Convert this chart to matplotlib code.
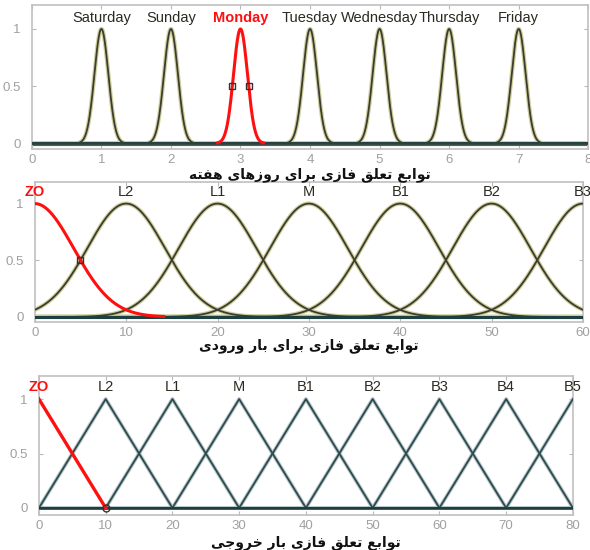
import numpy as np
import matplotlib
matplotlib.use('Agg')
import matplotlib.pyplot as plt

# Data
days = ['Saturday', 'Sunday', 'Monday', 'Tuesday', 'Wednesday', 'Thursday', 'Friday']
day_centers = [1, 2, 3, 4, 5, 6, 7]
day_sigma = 0.1
day_red = 'Monday'

in_labels = ['ZO', 'L2', 'L1', 'M', 'B1', 'B2', 'B3']
in_centers = [0, 10, 20, 30, 40, 50, 60]
in_sigma = 4.25

out_labels = ['ZO', 'L2', 'L1', 'M', 'B1', 'B2', 'B3', 'B4', 'B5']
out_centers = [0, 10, 20, 30, 40, 50, 60, 70, 80]
out_width = 10

xlabels = ['توابع تعلق فازی برای روزهای هفته',
           'توابع تعلق فازی برای بار ورودی',
           'توابع تعلق فازی بار خروجی']

# Persian shaping by hand (matplotlib draws no joined Arabic script)
# letter: (isolated, final, initial, medial); None = does not join forward
FORMS = {
    'ا': ('\uFE8D', '\uFE8E', None, None),
    'ب': ('\uFE8F', '\uFE90', '\uFE91', '\uFE92'),
    'ت': ('\uFE95', '\uFE96', '\uFE97', '\uFE98'),
    'ج': ('\uFE9D', '\uFE9E', '\uFE9F', '\uFEA0'),
    'خ': ('\uFEA5', '\uFEA6', '\uFEA7', '\uFEA8'),
    'د': ('\uFEA9', '\uFEAA', None, None),
    'ر': ('\uFEAD', '\uFEAE', None, None),
    'ز': ('\uFEAF', '\uFEB0', None, None),
    'ع': ('\uFEC9', '\uFECA', '\uFECB', '\uFECC'),
    'ف': ('\uFED1', '\uFED2', '\uFED3', '\uFED4'),
    'ق': ('\uFED5', '\uFED6', '\uFED7', '\uFED8'),
    'ل': ('\uFEDD', '\uFEDE', '\uFEDF', '\uFEE0'),
    'ه': ('\uFEE9', '\uFEEA', '\uFEEB', '\uFEEC'),
    'و': ('\uFEED', '\uFEEE', None, None),
    'ی': ('\uFBFC', '\uFBFD', '\uFBFE', '\uFBFF'),
}


def shape(text):
    out = []
    for i, ch in enumerate(text):
        if ch not in FORMS:
            out.append(ch)
            continue
        prev = text[i - 1] if i > 0 else ''
        nxt = text[i + 1] if i + 1 < len(text) else ''
        join_prev = prev in FORMS and FORMS[prev][2] is not None
        join_next = FORMS[ch][2] is not None and nxt in FORMS
        iso, fin, ini, med = FORMS[ch]
        if join_prev and join_next:
            out.append(med)
        elif join_prev:
            out.append(fin)
        elif join_next:
            out.append(ini)
        else:
            out.append(iso)
    return ''.join(out)[::-1]


def gauss(x, c, s):
    return np.exp(-(x - c) ** 2 / (2 * s ** 2))


def tri(x, c, w):
    return np.clip(1 - np.abs(x - c) / w, 0, 1)


def style_axes(ax, xticks):
    ax.set_xticks(xticks)
    ax.set_yticks([0, 0.5, 1])
    ax.set_yticklabels(['0', '0.5', '1'])
    ax.tick_params(direction='in', top=True, right=True, length=3,
                   color='#b8b8b8', labelcolor='#a0a0a0', labelsize=9.5)
    ax.tick_params(axis='y', pad=8)
    for sp in ax.spines.values():
        sp.set_color('#c0c0c0')
        sp.set_linewidth(1.2)


plt.rcParams['font.family'] = ['Liberation Sans', 'DejaVu Sans']
fig = plt.figure(figsize=(5.9, 5.5), dpi=100)

dark = '#3c3c30'
fringe = '#cfcf9c'
red = '#ff1010'

# Panel 1: days of the week
ax1 = fig.add_axes([0.054, 0.729, 0.943, 0.262])
x = np.linspace(0, 8, 1600)
for name, c in zip(days, day_centers):
    y = gauss(x, c, day_sigma)
    if name == day_red:
        ax1.plot(x, np.where(y > 0.004, y, np.nan), color=red, lw=2.2, zorder=4)
        h = day_sigma * np.sqrt(2 * np.log(2))
        ax1.plot([c - h, c + h], [0.5, 0.5], ls='none', marker='s', ms=5,
                 mfc='none', mec='#333333', mew=1, zorder=5)
        ax1.text(c, 1.1, name, ha='center', va='center', fontsize=10.5,
                 color=red, fontweight='bold')
    else:
        ax1.plot(x, y, color=fringe, lw=3, zorder=2)
        ax1.plot(x, y, color=dark, lw=1.3, zorder=3)
        ax1.text(c, 1.1, name, ha='center', va='center', fontsize=10.5,
                 color='#2a2a20')
ax1.axhline(-0.014, color='#a04030', lw=0.8, zorder=2)
ax1.axhline(0, color='#1f4545', lw=1.8, zorder=3)
ax1.set_xlim(0, 8)
ax1.set_ylim(-0.05, 1.21)
style_axes(ax1, range(0, 9))

# Panel 2: input load
ax2 = fig.add_axes([0.059, 0.4145, 0.929, 0.2545])
x = np.linspace(0, 60, 1200)
for i, (name, c) in enumerate(zip(in_labels, in_centers)):
    y = gauss(x, c, in_sigma)
    if i == 0:
        ax2.plot(x, np.where(y > 0.004, y, np.nan), color=red, lw=2.2, zorder=4)
        ax2.plot([5], [gauss(5, c, in_sigma)], ls='none', marker='s', ms=5,
                 mfc='none', mec='#333333', mew=1, zorder=5)
        ax2.text(c, 1.1, name, ha='center', va='center', fontsize=10.5,
                 color=red, fontweight='bold', clip_on=False)
    else:
        ax2.plot(x, y, color=fringe, lw=3, zorder=2)
        ax2.plot(x, y, color=dark, lw=1.3, zorder=3)
        ax2.text(c, 1.1, name, ha='center', va='center', fontsize=10.5,
                 color='#2a2a20')
ax2.axhline(0, color='#1f4040', lw=2.2, zorder=3)
ax2.set_xlim(0, 60)
ax2.set_ylim(-0.045, 1.19)
style_axes(ax2, range(0, 61, 10))

# Panel 3: output load
ax3 = fig.add_axes([0.066, 0.0636, 0.905, 0.2524])
x = np.linspace(0, 80, 1601)
for i, (name, c) in enumerate(zip(out_labels, out_centers)):
    y = tri(x, c, out_width)
    if i == 0:
        keep = x <= c + out_width
        ax3.plot(x[keep], y[keep], color=red, lw=2.4, zorder=4)
        ax3.plot([c + out_width], [0], ls='none', marker='o', ms=5,
                 mfc='none', mec='#333333', mew=1, zorder=5)
        ax3.text(c, 1.11, name, ha='center', va='center', fontsize=10.5,
                 color=red, fontweight='bold', clip_on=False)
    else:
        ax3.plot(x, y, color='#b8c8cc', lw=2.8, zorder=2)
        ax3.plot(x, y, color='#2e4a4c', lw=1.3, zorder=3)
        ax3.text(c, 1.11, name, ha='center', va='center', fontsize=10.5,
                 color='#2a2a20')
ax3.axhline(0, color='#1f3c3c', lw=1.8, zorder=3)
ax3.set_xlim(0, 80)
ax3.set_ylim(-0.065, 1.21)
style_axes(ax3, range(0, 81, 10))

# Persian axis captions
for ax, lab, ypix in zip([ax1, ax2, ax3], xlabels, [175, 346, 543]):
    pos = ax.get_position()
    fig.text((pos.x0 + pos.x1) / 2, 1 - ypix / 550, shape(lab),
             ha='center', va='center', fontsize=10, fontweight='bold',
             family=['DejaVu Sans'], color='#111111')

fig.savefig('out.png', dpi=100)
